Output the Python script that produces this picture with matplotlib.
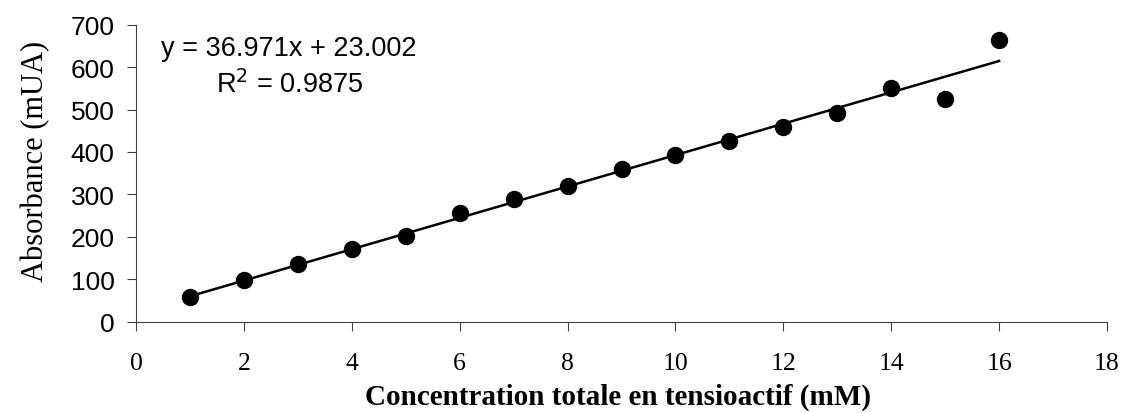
import numpy as np
import matplotlib.pyplot as plt

# concentration (mM) and absorbance (mUA)
conc = [1, 2, 3, 4, 5, 6, 7, 8, 9, 10, 11, 12, 13, 14, 15, 16]
absorb = [58, 98, 135, 171, 201, 256, 290, 319, 360, 393, 427, 460, 491, 551, 525, 665]

# trend line as reported on the chart
slope = 36.971
intercept = 23.002
r2 = 0.9875

x_ticks = [0, 2, 4, 6, 8, 10, 12, 14, 16, 18]
y_ticks = [0, 100, 200, 300, 400, 500, 600, 700]


def main():
    fig = plt.figure(figsize=(11.25, 4.14), dpi=100)
    ax = fig.add_axes([0.1209, 0.2205, 0.8631, 0.7174])

    ax.plot(conc, absorb, "o", color="black", markersize=11.5, zorder=3)
    xs = np.array([conc[0], conc[-1]])
    ax.plot(xs, slope * xs + intercept, color="black", linewidth=1.8, zorder=2)

    ax.set_xlim(0, 18)
    ax.set_ylim(0, 700)
    ax.set_xticks(x_ticks)
    ax.set_yticks(y_ticks)
    ax.set_xticklabels([str(t) for t in x_ticks], family="Liberation Serif", fontsize=18.5)
    ax.set_yticklabels([str(t) for t in y_ticks], family="Liberation Sans", fontsize=19)
    ax.tick_params(axis="both", direction="out", length=6.5, width=0.8, color="#404040")
    ax.tick_params(axis="x", pad=15)
    ax.tick_params(axis="y", pad=9)

    for side in ["top", "right"]:
        ax.spines[side].set_visible(False)
    for side in ["left", "bottom"]:
        ax.spines[side].set_color("#404040")
        ax.spines[side].set_linewidth(0.8)

    ax.set_ylabel("Absorbance (mUA)", family="Liberation Serif", fontsize=22)
    ax.set_xlabel("Concentration totale en tensioactif (mM)", family="Liberation Serif",
                  fontsize=21, fontweight="bold")
    ax.yaxis.set_label_coords(-0.088, 0.543)
    ax.xaxis.set_label_coords(0.496, -0.205)

    ax.text(2.84, 646, "y = %.3fx + %.3f" % (slope, intercept), family="Liberation Sans",
            fontsize=19.5, ha="center", va="center")
    ax.text(2.84, 562, "R$^2$ = %.4f" % r2, family="Liberation Sans",
            fontsize=19.5, ha="center", va="center")

    fig.savefig("out.png", dpi=100)


if __name__ == '__main__':
    main()
